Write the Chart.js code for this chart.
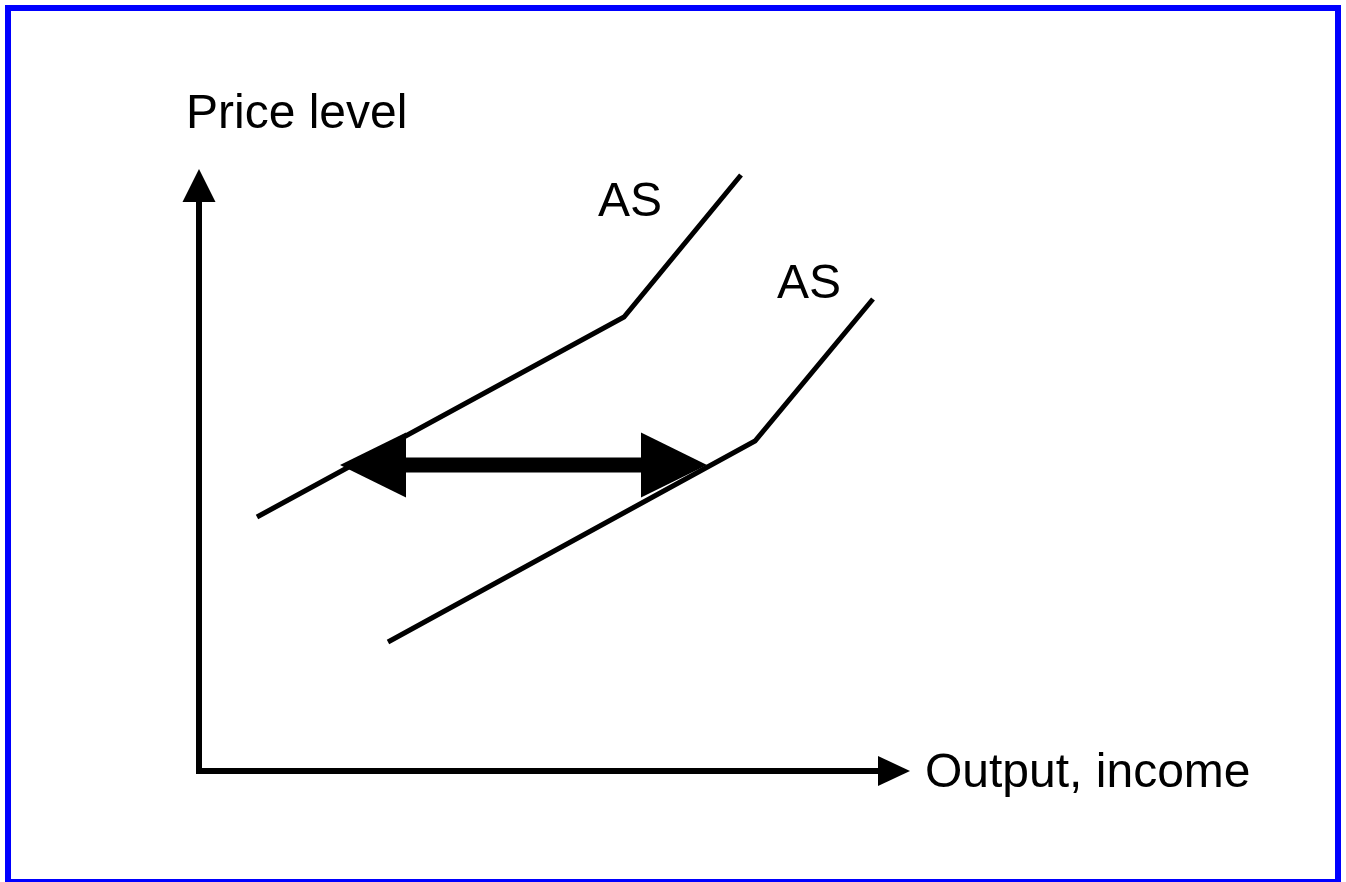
<!DOCTYPE html>
<html>
<head>
<meta charset="utf-8">
<title>AS shift</title>
<script src="https://cdn.jsdelivr.net/npm/chart.js@4.4.0/dist/chart.umd.min.js"></script>
<style>
    html, body { margin: 0; padding: 0; background: #fff; }
    #wrap { width: 1346px; height: 882px; }
</style>
</head>
<body>
<div id="wrap"><canvas id="asChart" width="1346" height="882"></canvas></div>
<script>
"use strict";

// curve points (x = output, y = price level), axis origin at 0,0
var upperAsX = [ 5.8, 42.5, 54.2 ];
var upperAsY = [ 25.4, 45.4, 59.6 ];
var lowerAsX = [ 18.9, 55.6, 67.4 ];
var lowerAsY = [ 12.9, 33.0, 47.2 ];

// horizontal shift arrow between the two curves
var shiftX = [ 14.1, 50.8 ];
var shiftY = [ 30.6, 30.6 ];

// axis arrows
var axisYX = [ 0, 0 ];
var axisYY = [ 0, 60.2 ];
var axisXX = [ 0, 71.1 ];
var axisXY = [ 0, 0 ];

// text labels, anchored in data units
var labelTexts = [ "Price level", "AS", "AS", "Output, income" ];
var labelX = [ -1.3, 39.9, 57.8, 72.6 ];
var labelY = [ 64.3, 55.5, 47.3, -1.6 ];

function toPoints(xs, ys) {
    return xs.map(function (x, i) {
        return { x: x, y: ys[i] };
    });
}

var arrowPlugin = {
    id: "arrows",
    afterDatasetsDraw: function (chart) {
        var ctx = chart.ctx;
        chart.data.datasets.forEach(function (ds, i) {
            if (!ds.arrow) {
                return;
            }
            var pts = chart.getDatasetMeta(i).data;
            var a = pts[0], b = pts[pts.length - 1];
            var dx = b.x - a.x, dy = b.y - a.y;
            var d = Math.sqrt(dx * dx + dy * dy);
            var ux = dx / d, uy = dy / d;
            var hl = ds.arrow.length, hw = ds.arrow.width / 2;

            var sx = a.x, sy = a.y, ex = b.x, ey = b.y;
            if (ds.arrow.start) { sx += ux * hl * 0.9; sy += uy * hl * 0.9; }
            if (ds.arrow.end) { ex -= ux * hl * 0.9; ey -= uy * hl * 0.9; }

            ctx.save();
            ctx.strokeStyle = ds.arrow.color;
            ctx.fillStyle = ds.arrow.color;
            ctx.lineWidth = ds.arrow.shaft;
            ctx.lineCap = "square";
            ctx.beginPath();
            ctx.moveTo(sx, sy);
            ctx.lineTo(ex, ey);
            ctx.stroke();

            function head(tx, ty, vx, vy) {
                var bx = tx - vx * hl, by = ty - vy * hl;
                ctx.beginPath();
                ctx.moveTo(tx, ty);
                ctx.lineTo(bx - vy * hw, by + vx * hw);
                ctx.lineTo(bx + vy * hw, by - vx * hw);
                ctx.closePath();
                ctx.fill();
            }
            if (ds.arrow.end) { head(b.x, b.y, ux, uy); }
            if (ds.arrow.start) { head(a.x, a.y, -ux, -uy); }
            ctx.restore();
        });
    }
};

var framePlugin = {
    id: "frame",
    beforeDraw: function (chart) {
        var ctx = chart.ctx;
        ctx.save();
        ctx.fillStyle = "#ffffff";
        ctx.fillRect(0, 0, chart.width, chart.height);
        ctx.restore();
    },
    afterDraw: function (chart) {
        var ctx = chart.ctx;
        var xs = chart.scales.x, ys = chart.scales.y;
        ctx.save();
        ctx.strokeStyle = "#0000ff";
        ctx.lineWidth = 6;
        ctx.strokeRect(8, 8, chart.width - 16, chart.height - 8);

        ctx.fillStyle = "#000000";
        ctx.font = "48px 'Liberation Sans', Arial, sans-serif";
        ctx.textBaseline = "alphabetic";
        ctx.textAlign = "left";
        labelTexts.forEach(function (t, i) {
            ctx.fillText(t, xs.getPixelForValue(labelX[i]), ys.getPixelForValue(labelY[i]));
        });
        ctx.restore();
    }
};

function curve(xs, ys) {
    return {
        data           : toPoints(xs, ys),
        showLine       : true,
        borderColor    : "#000000",
        borderWidth    : 5,
        borderJoinStyle: "miter",
        pointRadius    : 0,
        fill           : false,
        clip           : false
    };
}

function arrow(xs, ys, opts) {
    return {
        data       : toPoints(xs, ys),
        showLine   : false,
        pointRadius: 0,
        clip       : false,
        arrow      : opts
    };
}

new Chart(document.getElementById("asChart"), {
    type   : "scatter",
    data   : {
        datasets: [
            curve(upperAsX, upperAsY),
            curve(lowerAsX, lowerAsY),
            arrow(axisYX, axisYY, { end: true, length: 33, width: 33, shaft: 6, color: "#000000" }),
            arrow(axisXX, axisXY, { end: true, length: 32, width: 30, shaft: 6, color: "#000000" }),
            arrow(shiftX, shiftY, { start: true, end: true, length: 66, width: 65, shaft: 15, color: "#000000" })
        ]
    },
    options: {
        responsive      : false,
        animation       : false,
        devicePixelRatio: 1,
        layout          : { padding: 0 },
        events          : [],
        plugins         : {
            legend : { display: false },
            tooltip: { enabled: false }
        },
        scales          : {
            x: { type: "linear", min: -19.9, max: 114.7, display: false },
            y: { type: "linear", min: -11.1, max: 77.1, display: false }
        }
    },
    plugins: [ framePlugin, arrowPlugin ]
});
</script>
</body>
</html>
